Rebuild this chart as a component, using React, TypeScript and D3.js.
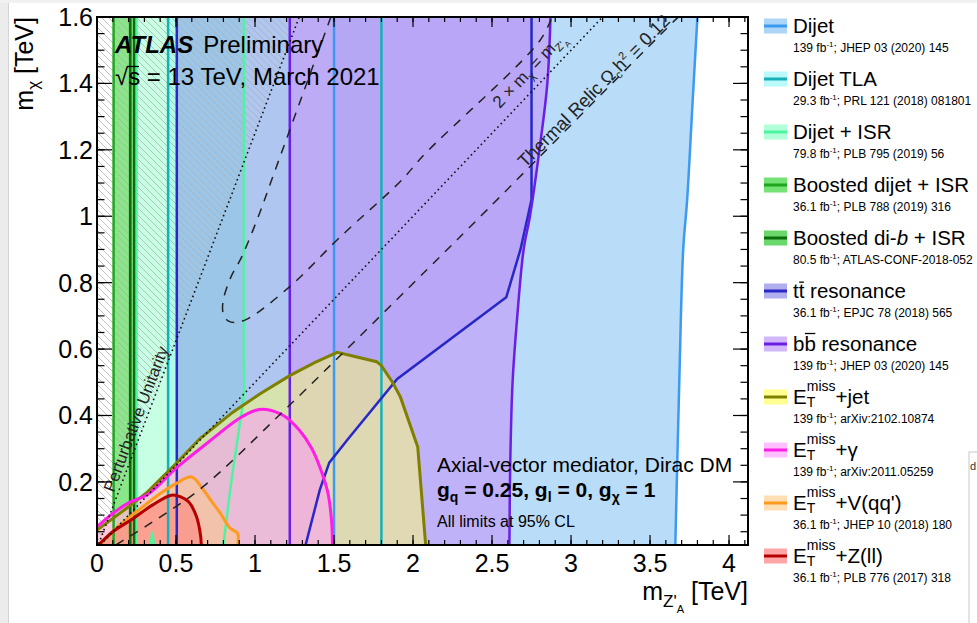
import React from 'react';
import * as d3 from 'd3';

type Pt = [number, number];

// axes (TeV)
const xDomain: Pt = [0, 4.12];
const yDomain: Pt = [0.01, 1.6];
const xTicks = [0, 0.5, 1, 1.5, 2, 2.5, 3, 3.5, 4];
const xTickLabels = ['0', '0.5', '1', '1.5', '2', '2.5', '3', '3.5', '4'];
const yTicks = [0.2, 0.4, 0.6, 0.8, 1, 1.2, 1.4, 1.6];
const yTickLabels = ['0.2', '0.4', '0.6', '0.8', '1', '1.2', '1.4', '1.6'];

// exclusion limits, points are [m_Z'A, m_chi]
const dijetLow = 1.5;
const dijetHigh: Pt[] = [[3.66, 0.01], [3.685, 0.5], [3.71, 0.9], [3.735, 1.05], [3.77, 1.35], [3.8, 1.6]];
const tlaRange = [0.45, 1.8];
const isrLow = 0.25;
const isrHigh: Pt[] = [[0.8, 0.01], [0.85, 0.2], [0.89, 0.33], [0.93, 0.47], [0.93, 0.55], [0.93, 1.6]];
const isrNotch: Pt[] = [[0.34, 0.01], [0.35, 0.05], [0.36, 0.01]];
const boostedRange = [0.105, 0.21];
const boostedBbRange = [0.21, 0.235];
const ttLow = 0.505;
const ttHigh: Pt[] = [[1.32, 0.01], [1.41, 0.176], [1.47, 0.258], [1.59, 0.33], [1.9, 0.51], [2.59, 0.756], [2.68, 0.9], [2.75, 1.05], [2.75, 1.6]];
const bbLow = 1.22;
const bbHigh: Pt[] = [[2.61, 0.01], [2.615, 0.25], [2.63, 0.5], [2.66, 0.7], [2.7, 0.9], [2.74, 1.0], [2.8, 1.2], [2.85, 1.4], [2.87, 1.6]];
const metJet: Pt[] = [[0, 0.055], [0.2, 0.125], [0.32, 0.17], [0.5, 0.255], [0.65, 0.33], [0.86, 0.41], [1.03, 0.465], [1.22, 0.52], [1.38, 0.56], [1.52, 0.59], [1.77, 0.562], [1.8, 0.55], [1.87, 0.5], [1.92, 0.456], [2.03, 0.305], [2.08, 0.01]];
const metGamma: Pt[] = [[0, 0.065], [0.1, 0.105], [0.2, 0.137], [0.32, 0.162], [0.51, 0.245], [0.7, 0.318], [0.89, 0.388], [1.0, 0.415], [1.07, 0.418], [1.18, 0.4], [1.28, 0.356], [1.36, 0.3], [1.41, 0.245], [1.46, 0.17], [1.485, 0.08], [1.49, 0.01]];
const metV: Pt[] = [[0.02, 0.01], [0.12, 0.06], [0.25, 0.11], [0.4, 0.165], [0.5, 0.195], [0.6, 0.215], [0.67, 0.178], [0.72, 0.145], [0.78, 0.106], [0.84, 0.062], [0.89, 0.045], [0.89, 0.01]];
const metZ: Pt[] = [[0.01, 0.01], [0.1, 0.05], [0.23, 0.09], [0.35, 0.13], [0.47, 0.16], [0.53, 0.155], [0.58, 0.14], [0.63, 0.095], [0.655, 0.04], [0.66, 0.01]];

// theory lines
const unitarityLine: Pt[] = [[0, 0], [1.28, 1.6]];
const halfMassLine: Pt[] = [[0, 0], [3.2, 1.6]];
const relicUpper: Pt[] = [[1.48, 1.6], [1.108, 1.113], [1.032, 1.013], [0.918, 0.88], [0.842, 0.811], [0.797, 0.741], [0.8, 0.705], [0.83, 0.685], [0.87, 0.68], [0.949, 0.69], [1.222, 0.789], [1.538, 0.937], [1.918, 1.104], [2.08, 1.19], [2.8, 1.527], [2.88, 1.6]];
const relicLower: Pt[] = [[0.12, 0.01], [0.2, 0.034], [0.37, 0.085], [0.67, 0.185], [1.21, 0.427], [2.09, 0.84], [2.47, 1.02], [3.67, 1.596], [3.68, 1.6]];

// legend
const legendNames = ['Dijet', 'Dijet TLA', 'Dijet + ISR', 'Boosted dijet + ISR', 'Boosted di-b + ISR', 'tt resonance', 'bb resonance', 'MET+jet', 'MET+γ', "MET+V(qq')", 'MET+Z(ll)'];
const legendLumi = ['139', '29.3', '79.8', '36.1', '80.5', '36.1', '139', '139', '139', '36.1', '36.1'];
const legendRefs = ['JHEP 03 (2020) 145', 'PRL 121 (2018) 081801', 'PLB 795 (2019) 56', 'PLB 788 (2019) 316', 'ATLAS-CONF-2018-052', 'EPJC 78 (2018) 565', 'JHEP 03 (2020) 145', 'arXiv:2102.10874', 'arXiv:2011.05259', 'JHEP 10 (2018) 180', 'PLB 776 (2017) 318'];

// styles, same order as legend
const fillColors = ['#74b9f2', '#8cf5f5', '#50ffaa', '#3ad63a', '#2cc82c', '#7d78e4', '#c3a0f8', '#ffff6e', '#ff96ff', '#ffc882', '#ff7878'];
const fillOpacity = [0.5, 0.4, 0.32, 0.6, 0.6, 0.4, 0.7, 0.5, 0.5, 0.5, 0.5];
const swatchOpacity = [0.6, 0.6, 0.45, 0.7, 0.7, 0.6, 0.75, 0.75, 0.6, 0.6, 0.65];
const lineColors = ['#3d9af0', '#17b0b8', '#4df5a0', '#1fa51f', '#0b6e0b', '#2828c8', '#6a1ee6', '#7f7f00', '#ff1ee6', '#ff9a1e', '#b40000'];
const drawOrder = [0, 2, 1, 3, 4, 5, 6, 7, 8, 9, 10];

const W = 977;
const H = 623;
const FONT = "'Liberation Sans', Arial, Helvetica, sans-serif";
const plot = { left: 97, right: 748, top: 17, bottom: 545 };
const LEG_FONT = 20.5;

export default function App() {
	const x = d3.scaleLinear().domain(xDomain).range([plot.left, plot.right]);
	const y = d3.scaleLinear().domain(yDomain).range([plot.bottom, plot.top]);
	const [y0, y1] = yDomain;

	const straight = d3.line<Pt>().x((d) => x(d[0])).y((d) => y(d[1]));
	const smooth = d3
		.line<Pt>()
		.x((d) => x(d[0]))
		.y((d) => y(d[1]))
		.curve(d3.curveCatmullRom.alpha(0.5));
	const close = (d: string, extra: Pt[]) =>
		d + extra.map((p) => `L${x(p[0])},${y(p[1])}`).join('') + 'Z';
	const vline = (v: number) => straight([[v, y0], [v, y1]]) as string;
	const band = (r: number[]) =>
		(straight([[r[0], y0], [r[0], y1], [r[1], y1], [r[1], y0]]) as string) + 'Z';

	const regions = [
		{ area: close(smooth(dijetHigh)!, [[dijetLow, y1], [dijetLow, y0]]), lines: [vline(dijetLow), smooth(dijetHigh)!], w: 2.5 },
		{ area: band(tlaRange), lines: tlaRange.map(vline), w: 2.5 },
		{ area: close(smooth(isrHigh)!, [[isrLow, y1], [isrLow, y0], ...isrNotch]), lines: [vline(isrLow), smooth(isrHigh)!, straight(isrNotch)!], w: 2.5 },
		{ area: band(boostedRange), lines: boostedRange.map(vline), w: 2.5 },
		{ area: band(boostedBbRange), lines: boostedBbRange.map(vline), w: 2.5 },
		{ area: close(straight(ttHigh)!, [[ttLow, y1], [ttLow, y0]]), lines: [vline(ttLow), straight(ttHigh)!], w: 2.5 },
		{ area: close(smooth(bbHigh)!, [[bbLow, y1], [bbLow, y0]]), lines: [vline(bbLow), smooth(bbHigh)!], w: 2.5 },
		{ area: close(straight(metJet)!, [[0, y0]]), lines: [straight(metJet)!], w: 3 },
		{ area: close(smooth(metGamma)!, [[0, y0]]), lines: [smooth(metGamma)!], w: 3 },
		{ area: close(smooth(metV)!, []), lines: [smooth(metV)!], w: 3 },
		{ area: close(smooth(metZ)!, []), lines: [smooth(metZ)!], w: 3 },
	];

	const hatchArea = close(straight([[0, y0], [0, y1], unitarityLine[1], unitarityLine[0]])!, []);

	// labels along the theory lines
	const angle = (a: Pt, b: Pt) =>
		(Math.atan2(y(b[1]) - y(a[1]), x(b[0]) - x(a[0])) * 180) / Math.PI;
	const along = (pts: Pt[]) =>
		d3.scaleLinear().domain(pts.map((d) => d[0])).range(pts.map((d) => d[1]));
	const puAt = 0.13;
	const puY = along(unitarityLine)(puAt);
	const halfAt = 2.6;
	const halfY = along(halfMassLine)(halfAt);
	const relicAt = 2.72;
	const relicY = along(relicLower.slice(0, 8))(relicAt);

	const xMinor = d3.range(0, 4.11, 0.1);
	const yMinor = d3.range(0.05, 1.6, 0.05);

	// Liberation Sans advance widths (em) for the barred quark labels
	const glyphW: Record<string, number> = { t: 0.278, b: 0.556 };
	const glyphH: Record<string, number> = { t: 0.7, b: 0.78 };

	const renderName = (name: string, base: number) => {
		if (name.startsWith('MET')) {
			return (
				<text x={793} y={base} fontSize={LEG_FONT}>
					E
					<tspan dy={3} fontSize={14}>T</tspan>
					<tspan dx={-8.5} dy={-16} fontSize={14}>miss</tspan>
					<tspan dy={13}>{name.slice(3)}</tspan>
				</text>
			);
		}
		if (name === 'tt resonance' || name === 'bb resonance') {
			const q = name[0];
			const w = glyphW[q] * LEG_FONT;
			const top = base - glyphH[q] * LEG_FONT - 1.5;
			return (
				<g>
					<text x={793} y={base} fontSize={LEG_FONT}>
						{name}
					</text>
					<line x1={793 + w + 0.5} x2={793 + 2 * w - 0.5} y1={top} y2={top} stroke="#000" strokeWidth={1.3} />
				</g>
			);
		}
		if (name === 'Boosted di-b + ISR') {
			return (
				<text x={793} y={base} fontSize={LEG_FONT}>
					Boosted di-<tspan fontStyle="italic">b</tspan> + ISR
				</text>
			);
		}
		return (
			<text x={793} y={base} fontSize={LEG_FONT}>
				{name}
			</text>
		);
	};

	return (
		<svg
			width={W}
			height={H}
			style={{ position: 'absolute', left: 0, top: 0, background: '#fff' }}
			fontFamily={FONT}>
			<defs>
				<clipPath id="plot-clip">
					<rect x={plot.left} y={plot.top} width={plot.right - plot.left} height={plot.bottom - plot.top} />
				</clipPath>
				<pattern id="hatch" patternUnits="userSpaceOnUse" width={7} height={7}>
					<path d="M-1,-1L8,8M-1,6L1,8M6,-1L8,1" stroke="#adadad" strokeWidth={0.75} />
				</pattern>
			</defs>

			{/* screenshot edges */}
			<rect x={0} y={0} width={8} height={H} fill="#ececec" />
			<line x1={8.5} x2={8.5} y1={0} y2={H} stroke="#d4d4d4" />
			<rect x={0} y={0} width={W} height={3} fill="#f1f1f1" />

			<g clipPath="url(#plot-clip)">
				{drawOrder.map((i) => (
					<path key={'f' + i} d={regions[i].area} fill={fillColors[i]} fillOpacity={fillOpacity[i]} />
				))}
				<path d={hatchArea} fill="url(#hatch)" />
				{regions.map((r, i) =>
					r.lines.map((d, j) => (
						<path key={`l${i}-${j}`} d={d} fill="none" stroke={lineColors[i]} strokeWidth={r.w} />
					))
				)}
				{/* theory curves */}
				<path d={straight(unitarityLine)!} fill="none" stroke="#111" strokeWidth={1.6} strokeDasharray="1.6 3.2" />
				<path d={straight(halfMassLine)!} fill="none" stroke="#111" strokeWidth={1.6} strokeDasharray="1.6 3.2" />
				<path d={smooth(relicUpper)!} fill="none" stroke="#222" strokeWidth={1.5} strokeDasharray="9 8" />
				<path d={smooth(relicLower)!} fill="none" stroke="#222" strokeWidth={1.5} strokeDasharray="9 8" />
			</g>

			{/* line labels */}
			<g
				transform={`translate(${x(puAt)},${y(puY)}) rotate(${angle(unitarityLine[0], unitarityLine[1])})`}
				fill="#222"
				fontSize={16.5}>
				<text y={-4}>Perturbative Unitarity</text>
			</g>
			<g
				transform={`translate(${x(halfAt)},${y(halfY)}) rotate(${angle(halfMassLine[0], halfMassLine[1])})`}
				fill="#222"
				fontSize={17}>
				<text y={-11}>
					2 × m<tspan fontSize={11} dy={4}>χ</tspan>
					<tspan dy={-4}> = m</tspan>
					<tspan fontSize={11} dy={4}>Z'</tspan>
					<tspan fontSize={8} dy={3}>A</tspan>
				</text>
			</g>
			<g
				transform={`translate(${x(relicAt)},${y(relicY)}) rotate(${angle(relicLower[5], relicLower[7])})`}
				fill="#222"
				fontSize={18}>
				<text y={-2}>
					Thermal Relic Ω<tspan fontSize={11} dy={4}>c</tspan>
					<tspan dy={-4}>h</tspan>
					<tspan fontSize={11} dy={-7}>2</tspan>
					<tspan dy={7}> = 0.12</tspan>
				</text>
			</g>

			{/* ticks */}
			<g stroke="#000" strokeWidth={1.2}>
				{xMinor.map((v, i) => (
					<g key={'xm' + i}>
						<line x1={x(v)} x2={x(v)} y1={plot.bottom} y2={plot.bottom - 5} />
						<line x1={x(v)} x2={x(v)} y1={plot.top} y2={plot.top + 5} />
					</g>
				))}
				{xTicks.map((v) => (
					<g key={'xM' + v}>
						<line x1={x(v)} x2={x(v)} y1={plot.bottom} y2={plot.bottom - 10} />
						<line x1={x(v)} x2={x(v)} y1={plot.top} y2={plot.top + 10} />
					</g>
				))}
				{yMinor.map((v, i) => (
					<g key={'ym' + i}>
						<line x1={plot.left} x2={plot.left + 7.5} y1={y(v)} y2={y(v)} />
						<line x1={plot.right} x2={plot.right - 7.5} y1={y(v)} y2={y(v)} />
					</g>
				))}
				{yTicks.map((v) => (
					<g key={'yM' + v}>
						<line x1={plot.left} x2={plot.left + 15} y1={y(v)} y2={y(v)} />
						<line x1={plot.right} x2={plot.right - 15} y1={y(v)} y2={y(v)} />
					</g>
				))}
			</g>
			<rect
				x={plot.left}
				y={plot.top}
				width={plot.right - plot.left}
				height={plot.bottom - plot.top}
				fill="none"
				stroke="#000"
				strokeWidth={2}
			/>

			{/* tick labels */}
			<g fontSize={25} fill="#000">
				{xTicks.map((v, i) => (
					<text key={'xt' + v} x={x(v)} y={572} textAnchor="middle">
						{xTickLabels[i]}
					</text>
				))}
				{yTicks.map((v, i) => (
					<text key={'yt' + v} x={93} y={y(v)} dy="0.36em" textAnchor="end">
						{yTickLabels[i]}
					</text>
				))}
			</g>

			{/* axis titles */}
			<text transform={`translate(33,${plot.top}) rotate(-90)`} textAnchor="end" fontSize={25}>
				m<tspan fontSize={17} dy={6}>χ</tspan>
				<tspan dy={-6}> [TeV]</tspan>
			</text>
			<text x={plot.right} y={600} textAnchor="end" fontSize={25}>
				m<tspan fontSize={17} dy={7}>Z'</tspan>
				<tspan fontSize={11} dy={6}>A</tspan>
				<tspan dy={-13}> [TeV]</tspan>
			</text>

			{/* ATLAS label */}
			<text x={115} y={53} fontSize={24}>
				<tspan fontWeight="bold" fontStyle="italic">ATLAS</tspan>
				<tspan dx={10}>Preliminary</tspan>
			</text>
			<text x={115} y={85} fontSize={24}>
				√s = 13 TeV, March 2021
			</text>
			<line x1={127} x2={139} y1={66.5} y2={66.5} stroke="#000" strokeWidth={1.3} />

			<text x={437} y={472} fontSize={21}>Axial-vector mediator, Dirac DM</text>
			<text x={437} y={497} fontSize={21} fontWeight="bold">
				g<tspan fontSize={14} dy={5}>q</tspan>
				<tspan dy={-5}> = 0.25, g</tspan>
				<tspan fontSize={14} dy={5}>l</tspan>
				<tspan dy={-5}> = 0, g</tspan>
				<tspan fontSize={14} dy={5}>χ</tspan>
				<tspan dy={-5}> = 1</tspan>
			</text>
			<text x={437} y={527} fontSize={16}>All limits at 95% CL</text>

			{/* legend */}
			{legendNames.map((name, i) => {
				const base = 33 + 53 * i;
				return (
					<g key={'lg' + i}>
						<rect x={764} y={base - 14.5} width={23} height={15} fill={fillColors[i]} fillOpacity={swatchOpacity[i]} />
						<line x1={764} x2={787} y1={base - 7} y2={base - 7} stroke={lineColors[i]} strokeWidth={3} />
						{renderName(name, base)}
						<text x={793} y={base + 19} fontSize={12}>
							{legendLumi[i]} fb<tspan fontSize={8} dy={-5}>-1</tspan>
							<tspan dy={5}>; {legendRefs[i]}</tspan>
						</text>
					</g>
				);
			})}

			{/* window edge at right */}
			<rect x={969} y={452} width={14} height={180} fill="#fff" stroke="#c8c8c8" />
			<text x={970} y={470} fontSize={11} fill="#333">d</text>
		</svg>
	);
}
